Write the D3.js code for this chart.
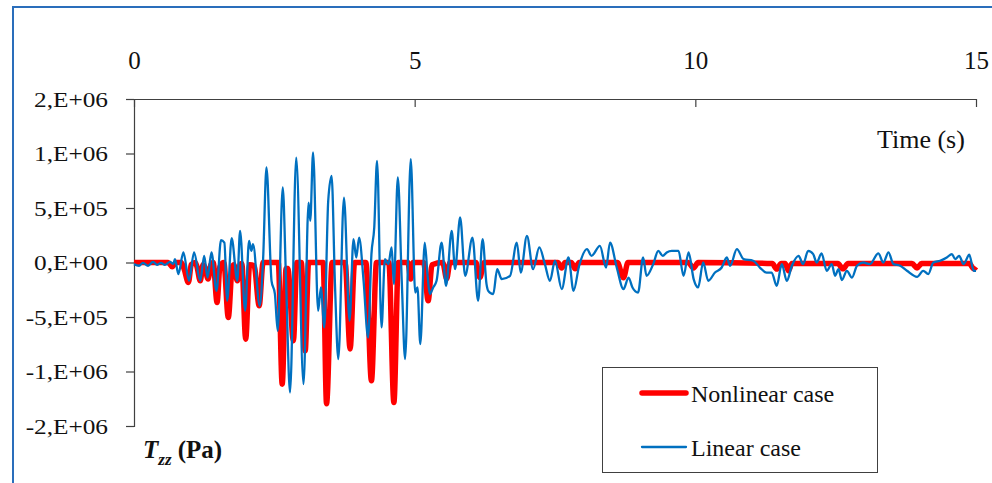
<!DOCTYPE html>
<html>
<head>
<meta charset="utf-8">
<script src="https://cdn.jsdelivr.net/npm/d3@7"></script>
<style>
  body { margin: 0; background: #fff; }
  svg text { font-family: "Liberation Serif", "Tinos", "Times New Roman", Times, "DejaVu Serif", serif; fill: #111; }
</style>
</head>
<body>
<div id="chart"></div>
<script>
// time (s) and normal stress Tzz (kPa)
var timeLinear = [0,0.09,0.16,0.25,0.34,0.41,0.48,0.55,0.64,0.70,
  0.73,0.79,0.88,0.98,1.07,1.18,1.25,1.31,1.38,1.47,
  1.55,1.61,1.66,1.74,1.84,1.89,1.98,2.05,2.09,2.12,
  2.24,2.30,2.36,2.45,2.51,2.56,2.65,2.71,2.78,2.89,
  3.02,3.11,3.14,3.19,3.28,3.33,3.39,3.46,3.52,3.58,
  3.64,3.74,3.84,3.91,3.96,4.01,4.09,4.17,4.23,4.28,
  4.33,4.41,4.47,4.53,4.59,4.63,4.70,4.77,4.83,4.93,
  5.01,5.05,5.10,5.18,5.23,5.27,5.33,5.39,5.48,5.56,
  5.66,5.72,5.81,5.90,6.03,6.13,6.21,6.28,6.31,6.40,
  6.47,6.55,6.70,6.82,6.89,7.00,7.11,7.22,7.32,7.41,
  7.50,7.62,7.74,7.83,7.93,8.07,8.15,8.30,8.41,8.48,
  8.60,8.72,8.81,8.88,8.98,9.07,9.13,9.25,9.34,9.42,
  9.49,9.58,9.70,9.79,9.88,9.97,10.05,10.14,10.23,10.35,
  10.47,10.56,10.62,10.74,10.86,11.03,11.15,11.27,11.36,11.45,
  11.54,11.63,11.72,11.84,11.92,12.01,12.10,12.16,12.25,12.34,
  12.43,12.49,12.55,12.61,12.70,12.79,12.88,12.99,13.11,13.26,
  13.35,13.44,13.53,13.65,13.77,13.95,14.06,14.15,14.24,14.36,
  14.48,14.57,14.63,14.70,14.78,14.88,14.96,15.0];
var linearKPa = [-15,-30,-3,-30,6,-21,-3,-21,6,-12,
  31,-106,92,-168,92,-168,61,-138,92,-260,
  205,183,-351,224,-168,291,-443,199,107,169,
  -397,31,872,-168,-287,-627,688,-195,-1193,963,
  -1116,550,383,1009,-443,-229,-596,566,795,-198,
  -886,596,-535,215,46,229,-168,-688,77,321,
  933,-596,31,-15,138,-198,780,-168,-886,949,
  -275,-229,-749,183,-122,-290,-229,-168,183,-214,
  291,-61,413,-122,229,-351,215,-198,-260,-290,
  -61,-152,-122,183,-92,245,-61,138,-15,-168,
  16,-244,46,-260,-30,123,61,153,-46,183,
  -46,-244,-138,-229,-275,46,-122,-15,107,61,
  92,107,107,-122,92,-152,-229,0,-168,-92,
  -46,46,-30,123,31,16,-46,-92,-92,-214,
  -15,-168,-30,61,-15,107,77,0,83,-76,
  -15,-122,-61,-161,-76,-138,-30,0,-15,83,
  0,92,-15,-30,-76,-131,-76,-106,0,16,
  46,77,31,61,-15,71,-76,-76];

var timeNonlinear = [0,0.61,0.68,0.75,0.84,0.89,0.97,1.02,1.09,1.12,
  1.18,1.23,1.26,1.32,1.37,1.41,1.48,1.53,1.60,1.68,
  1.75,1.78,1.84,1.89,1.92,1.99,2.06,2.14,2.23,2.30,
  2.57,2.64,2.71,2.74,2.84,2.90,2.98,3.05,3.11,3.37,
  3.43,3.53,3.76,3.85,3.93,4.13,4.23,4.32,4.54,4.63,
  4.71,4.88,4.93,4.97,5.16,5.24,5.31,5.50,5.57,5.63,
  6.09,6.16,6.24,7.55,7.62,7.68,7.79,7.86,7.93,8.61,
  8.72,8.80,9.87,9.97,10.05,11.37,11.45,11.53,11.60,11.66,
  11.72,12.54,12.63,12.72,13.86,13.95,14.03,14.88,14.96,15.0];
var nonlinearKPa = [0,0,-40,0,0,-55,-183,-20,0,-35,
  -168,-20,-40,-152,-20,0,-367,-40,0,-505,
  -40,-20,-168,-20,-10,-703,-20,-30,-397,0,
  0,-1116,-55,-55,-718,0,0,-810,0,0,
  -1296,0,0,-794,0,0,-1085,0,0,-1284,
  0,0,-152,0,0,-351,-20,0,-150,0,
  0,-138,0,0,-50,0,0,-58,0,0,
  -140,0,0,-50,0,-10,-60,-10,-10,-76,
  -10,-10,-58,-10,-10,-50,-10,-10,-58,-40];

var xTicks = [0, 5, 10, 15];
var yTicks = [1.5e6, 1e6, 5e5, 0, -5e5, -1e6, -1.5e6];
var yTickLabels = ["2,E+06", "1,E+06", "5,E+05", "0,E+00", "-5,E+05", "-1,E+06", "-2,E+06"];

var seriesNames = ["Nonlinear case", "Linear case"];
var seriesColors = ["#ff0000", "#0070c0"];

var width = 992, height = 483;
var svg = d3.select("#chart").append("svg")
    .attr("width", width)
    .attr("height", height);

// blue frame round the chart area
svg.append("path")
    .attr("d", "M13,483 V7 H992")
    .attr("fill", "none")
    .attr("stroke", "#2a6ebb")
    .attr("stroke-width", 2);

var x = d3.scaleLinear().domain([0, 15]).range([134, 976]);
var y = d3.scaleLinear().domain([-1.5e6, 1.5e6]).range([426, 99]);

// x axis sits on top, ticks point into the plot
var xAxis = svg.append("g")
    .attr("transform", "translate(0," + y(1.5e6) + ")")
    .call(d3.axisTop(x).tickValues(xTicks).tickSizeInner(-8).tickSizeOuter(0).tickPadding(30));
xAxis.selectAll("text").style("font-size", "25px");

var yAxis = svg.append("g")
    .attr("transform", "translate(" + x(0) + ",0)")
    .call(d3.axisLeft(y).tickValues(yTicks).tickSizeOuter(0).tickSize(8)
        .tickFormat(function(d, i) { return yTickLabels[i]; }));
yAxis.selectAll("text")
    .attr("x", 0)
    .attr("transform", "translate(-26,0) scale(1.15,1)")
    .style("font-size", "22px");

svg.selectAll(".domain, .tick line")
    .attr("stroke", "#404040")
    .attr("stroke-width", 1.2);
svg.selectAll(".tick text").attr("fill", "#111");

var line = d3.line()
    .x(function(d) { return x(d[0]); })
    .y(function(d) { return y(d[1] * 1000); })
    .curve(d3.curveMonotoneX);

var nonlinearData = timeNonlinear.map(function(t, i) { return [t, nonlinearKPa[i]]; });
var linearData = timeLinear.map(function(t, i) { return [t, linearKPa[i]]; });

svg.append("path")
    .datum(nonlinearData)
    .attr("d", line)
    .attr("fill", "none")
    .attr("stroke", seriesColors[0])
    .attr("stroke-width", 5.5)
    .attr("stroke-linejoin", "round");

svg.append("path")
    .datum(linearData)
    .attr("d", line)
    .attr("fill", "none")
    .attr("stroke", seriesColors[1])
    .attr("stroke-width", 2.3)
    .attr("stroke-linejoin", "round");

// axis titles
svg.append("text")
    .attr("x", 877)
    .attr("y", 148)
    .style("font-size", "26px")
    .text("Time (s)");

var tz = svg.append("text")
    .attr("x", 143)
    .attr("y", 458)
    .style("font-size", "25px")
    .style("font-weight", "bold");
tz.append("tspan").style("font-style", "italic").text("T");
tz.append("tspan").style("font-style", "italic").style("font-size", "17px").attr("dy", 7).text("zz");
tz.append("tspan").attr("dy", -7).text(" (Pa)");

// legend
var legend = svg.append("g");
legend.append("rect")
    .attr("x", 602.5).attr("y", 367.5)
    .attr("width", 275).attr("height", 105)
    .attr("fill", "#fff")
    .attr("stroke", "#404040")
    .attr("stroke-width", 1);
var legendY = [393, 447];
var legendWidth = [5.5, 2.3];
seriesNames.forEach(function(name, i) {
    legend.append("line")
        .attr("x1", 642).attr("x2", 686)
        .attr("y1", legendY[i]).attr("y2", legendY[i])
        .attr("stroke", seriesColors[i])
        .attr("stroke-width", legendWidth[i])
        .attr("stroke-linecap", "round");
    legend.append("text")
        .attr("x", 691)
        .attr("y", legendY[i] + 9)
        .style("font-size", "24px")
        .text(name);
});
</script>
</body>
</html>
